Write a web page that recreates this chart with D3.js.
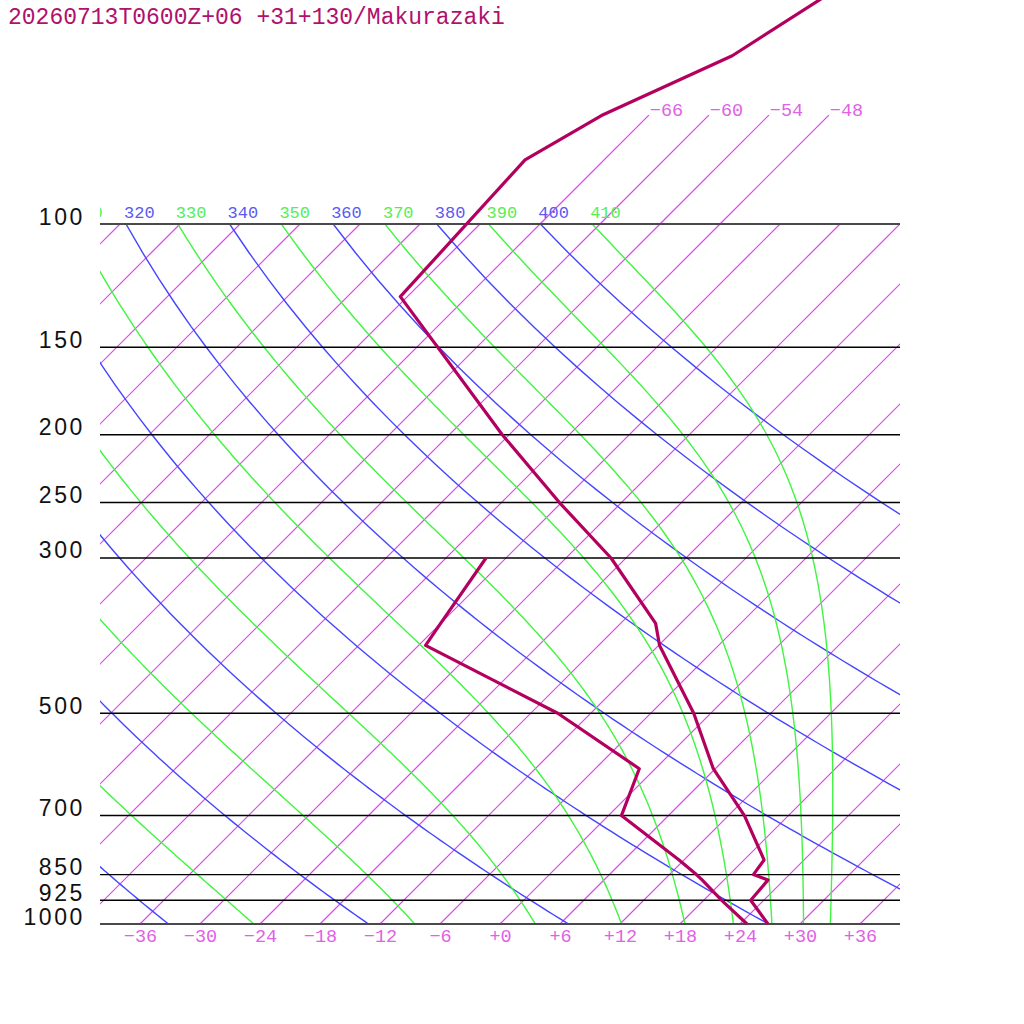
<!DOCTYPE html>
<html>
<head>
<meta charset="utf-8">
<script src="https://cdn.jsdelivr.net/npm/d3@7"></script>
<style>
  body { margin: 0; background: #fff; }
  svg { display: block; }
</style>
</head>
<body>
<div id="chart"></div>
<script>
// sounding levels (hPa) with temperature / dewpoint (degC)
var levels      = [1000, 925, 865, 850, 810, 700, 600, 500, 400, 372, 300, 250, 200, 127, 81, 70, 57.5, 40];
var temperature = [26.8, 22.7, 22.4, 20.4, 20.0, 13.6, 5.8, -1.7, -11.9, -14.5, -25.5, -36.2, -48.7, -72.7, -73.9, -70.7, -63.6, -57.4];
var dewpoint    = [24.7, 19.8, 15.8, 14.7, 11.5, 1.3, -1.6, -15.3, -35.3, -36.0, -38.0];

// diagram background
var isobars = [1000, 925, 850, 700, 500, 300, 250, 200, 150, 100];
var isotherms = [-108, -102, -96, -90, -84, -78, -72, -66, -60, -54, -48, -42, -36, -30,
                 -24, -18, -12, -6, 0, 6, 12, 18, 24, 30, 36];
var topIsotherms = [-66, -60, -54, -48];
var tempTicks = [-36, -30, -24, -18, -12, -6, 0, 6, 12, 18, 24, 30, 36];
var dryThetas = [240, 260, 280, 300, 320, 340, 360, 380, 400];
var moistThetaEs = [250, 270, 290, 310, 330, 350, 370, 390, 410];

var title = "20260713T0600Z+06 +31+130/Makurazaki";

var KAPPA = 0.2857, RD = 287.04, CP = 1005.7, LV = 2.501e6, EPS = 0.622;
var ISO_COLOR = "#dc46ec";

function init()
{
    var w = 1024, h = 1024;
    var left = 100, right = 900, top = 224, bottom = 924;

    var y = d3.scaleLog().domain([1000, 100]).range([bottom, top]);
    var xT = d3.scaleLinear().domain([-40, 40]).range([left, right]);

    // 45 degree skew
    function sx(t, p) {
        return xT(t) + (y(1000) - y(p));
    }

    var line = d3.line()
        .x(function(d) { return sx(d.t, d.p); })
        .y(function(d) { return y(d.p); });

    var svg = d3.select("#chart")
                .append("svg")
                .attr("width", w)
                .attr("height", h);

    var defs = svg.append("defs");
    defs.append("clipPath").attr("id", "box")
        .append("rect")
        .attr("x", left).attr("y", top)
        .attr("width", right - left).attr("height", bottom - top);
    defs.append("clipPath").attr("id", "lab")
        .append("rect")
        .attr("x", left).attr("y", 150)
        .attr("width", right - left).attr("height", 80);

    function lapse(T, p) {
        var tc = T - 273.15;
        var es = 6.112 * Math.exp(17.67 * tc / (tc + 243.5));
        var rs = EPS * es / (p - es);
        return (RD * T + LV * rs) / (p * (CP + LV * LV * rs * EPS / (RD * T * T)));
    }

    function moistAdiabat(thetaE) {
        var p = 100, T = thetaE * Math.pow(p / 1000, KAPPA);
        var dp = 5;
        var pts = [{p: p, t: T - 273.15}];
        while (p < 1000) {
            var k1 = lapse(T, p);
            var k2 = lapse(T + k1 * dp / 2, p + dp / 2);
            var k3 = lapse(T + k2 * dp / 2, p + dp / 2);
            var k4 = lapse(T + k3 * dp, p + dp);
            T += dp * (k1 + 2 * k2 + 2 * k3 + k4) / 6;
            p += dp;
            pts.push({p: p, t: T - 273.15});
        }
        return pts;
    }

    function dryAdiabat(theta) {
        var pts = [];
        for (var p = 100; p <= 1000; p += 10) {
            pts.push({p: p, t: theta * Math.pow(p / 1000, KAPPA) - 273.15});
        }
        return pts;
    }

    var grid = svg.append("g").attr("clip-path", "url(#box)");

    // isotherms
    grid.selectAll(".isotherm")
        .data(isotherms)
        .enter()
        .append("path")
        .attr("class", "isotherm")
        .attr("d", function(t) { return line([{t: t, p: 1000}, {t: t, p: 100}]); })
        .attr("fill", "none")
        .attr("stroke", ISO_COLOR)
        .attr("stroke-width", 1.2);

    // dry adiabats
    grid.selectAll(".dry")
        .data(dryThetas)
        .enter()
        .append("path")
        .attr("class", "dry")
        .attr("d", function(th) { return line(dryAdiabat(th)); })
        .attr("fill", "none")
        .attr("stroke", "#4545ff")
        .attr("stroke-width", 1.4);

    // moist adiabats
    grid.selectAll(".moist")
        .data(moistThetaEs)
        .enter()
        .append("path")
        .attr("class", "moist")
        .attr("d", function(th) { return line(moistAdiabat(th)); })
        .attr("fill", "none")
        .attr("stroke", "#40f540")
        .attr("stroke-width", 1.4);

    // isotherms continued above 100 hPa
    svg.selectAll(".isoTop")
        .data(topIsotherms)
        .enter()
        .append("path")
        .attr("class", "isoTop")
        .attr("d", function(t) { return line([{t: t, p: 100}, {t: t, p: 69.9}]); })
        .attr("fill", "none")
        .attr("stroke", ISO_COLOR)
        .attr("stroke-width", 1.2);

    svg.selectAll(".isoTopLabel")
        .data(topIsotherms)
        .enter()
        .append("text")
        .attr("class", "isoTopLabel")
        .attr("x", function(t) { return sx(t, 69.9) + 1; })
        .attr("y", 116)
        .text(function(t) { return "\u2212" + Math.abs(t); })
        .style("font-family", "'Liberation Mono', monospace")
        .style("font-size", "18.5px")
        .style("fill", "#e062e6");

    // adiabat labels along 100 hPa (only those reaching the box)
    var labs = svg.append("g").attr("clip-path", "url(#lab)");
    var adLabels = dryThetas.map(function(th) { return {v: th, c: "#5a5af2"}; })
        .concat(moistThetaEs.map(function(th) { return {v: th, c: "#55ee55"}; }))
        .filter(function(d) { return sx(d.v * Math.pow(0.1, KAPPA) - 273.15, 100) > 60; });
    labs.selectAll("text")
        .data(adLabels)
        .enter()
        .append("text")
        .attr("x", function(d) {
            return sx(d.v * Math.pow(0.1, KAPPA) - 273.15, 100) - 2;
        })
        .attr("y", 218)
        .text(function(d) { return d.v; })
        .style("font-family", "'Liberation Mono', monospace")
        .style("font-size", "17px")
        .style("fill", function(d) { return d.c; });

    // isobars
    svg.selectAll(".isobar")
        .data(isobars)
        .enter()
        .append("line")
        .attr("class", "isobar")
        .attr("x1", left).attr("x2", right)
        .attr("y1", function(p) { return y(p); })
        .attr("y2", function(p) { return y(p); })
        .attr("stroke", function(p) { return (p === 100 || p === 1000) ? "#4a4a4a" : "#000"; })
        .attr("stroke-width", function(p) { return (p === 100 || p === 1000) ? 2.2 : 1.4; });

    // pressure axis
    var yAxis = svg.append("g")
        .attr("transform", "translate(" + left + ",0)")
        .call(d3.axisLeft(y).tickValues(isobars).tickSize(0).tickPadding(15)
              .tickFormat(d3.format("d")));
    yAxis.select(".domain").remove();
    yAxis.selectAll("text")
        .attr("dy", "0")
        .style("font-family", "'Liberation Sans', sans-serif")
        .style("font-size", "23px")
        .style("letter-spacing", "2.6px")
        .style("fill", "#111");

    // temperature axis
    var xAxis = svg.append("g")
        .attr("transform", "translate(0," + bottom + ")")
        .call(d3.axisBottom(xT).tickValues(tempTicks).tickSize(0)
              .tickFormat(function(t) { return t < 0 ? "\u2212" + Math.abs(t) : "+" + t; }));
    xAxis.select(".domain").remove();
    xAxis.selectAll("text")
        .attr("y", 18)
        .attr("dy", "0")
        .style("font-family", "'Liberation Mono', monospace")
        .style("font-size", "18.5px")
        .style("fill", "#e062e6");

    // sounding
    var tData = levels.map(function(p, i) { return {p: p, t: temperature[i]}; });
    var dData = dewpoint.map(function(t, i) { return {p: levels[i], t: t}; });

    svg.append("path")
        .attr("d", line(dData))
        .attr("fill", "none")
        .attr("stroke", "#b3005e")
        .attr("stroke-width", 3.2)
        .attr("stroke-linejoin", "round");

    svg.append("path")
        .attr("d", line(tData))
        .attr("fill", "none")
        .attr("stroke", "#b3005e")
        .attr("stroke-width", 3.2)
        .attr("stroke-linejoin", "round");

    svg.append("text")
        .attr("x", 8)
        .attr("y", 24)
        .text(title)
        .style("font-family", "'Liberation Mono', monospace")
        .style("font-size", "23px")
        .style("fill", "#b0106e");
}
window.onload = init;
</script>
</body>
</html>
